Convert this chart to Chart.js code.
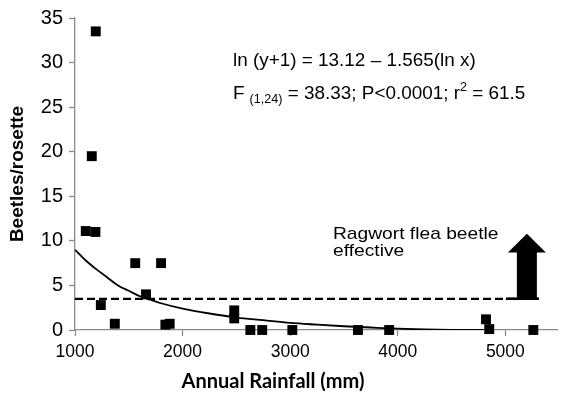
<!DOCTYPE html>
<html>
<head>
<meta charset="utf-8">
<script src="https://cdn.jsdelivr.net/npm/chart.js@4/dist/chart.umd.min.js"></script>
<style>
html,body{margin:0;padding:0;background:#fff;overflow:hidden;}
#wrap{width:564px;height:396px;position:relative;}
</style>
</head>
<body>
<div id="wrap"><canvas id="c" width="564" height="396"></canvas></div>
<script>
// ---- data ----
const rainfall = [1100,1190,1193,1156,1560,1800,1660,1240,1370,1840,1880,2480,2480,2630,2740,3020,3630,3920,4820,4850,5260];
const beetles  = [11.1,11.0,33.5,19.5,7.5,7.5,4.0,2.8,0.7,0.6,0.7,2.2,1.3,0,0,0,0,0,1.2,0.1,0];

// fitted curve
const fitX = [1000,1100,1200,1300,1400,1500,1600,1700,1800,2000,2250,2500,2750,3000,3250,3500,3750,4000,4250,4500,4800];
const fitY = [9.0,7.8,6.8,5.9,5.0,4.4,3.8,3.4,3.0,2.4,1.85,1.4,1.1,0.8,0.6,0.42,0.28,0.15,0.06,0.02,0.0];

// effectiveness threshold line and arrow
const thresholdX = [1000,5330];
const threshold = 3.5;
const arrowX = 5200;
const arrowTip = 10.8;
const arrowHeadBase = 8.7;

const xTicks = [1000,2000,3000,4000,5000];
const yTicks = [0,5,10,15,20,25,30,35];

const eqLine1 = 'ln (y+1) = 13.12 \u2013 1.565(ln x)';
const eqLine2 = ['F', '(1,24)', ' = 38.33; P<0.0001; r', '2', ' = 61.5'];
const noteLines = ['Ragwort flea beetle', 'effective'];
const xTitle = 'Annual Rainfall (mm)';
const yTitle = 'Beetles/rosette';

const AXIS = '#8a8a8a';
const FONT = '"Liberation Sans", Arial, sans-serif';

function stretchText(ctx, text, x, y, sx) {
  ctx.save();
  ctx.translate(x, y);
  ctx.scale(sx, 1);
  ctx.fillText(text, 0, 0);
  ctx.restore();
  return ctx.measureText(text).width * sx;
}

const annotate = {
  id: 'annotate',
  afterDatasetsDraw(chart) {
    const ctx = chart.ctx;
    const xs = chart.scales.x, ys = chart.scales.y;
    ctx.save();
    // arrow
    const cx = xs.getPixelForValue(arrowX);
    const yb = ys.getPixelForValue(threshold);
    const yt = ys.getPixelForValue(arrowTip);
    const yh = ys.getPixelForValue(arrowHeadBase);
    ctx.fillStyle = '#000';
    ctx.beginPath();
    ctx.moveTo(cx - 10, yb);
    ctx.lineTo(cx - 10, yh);
    ctx.lineTo(cx - 19, yh);
    ctx.lineTo(cx, yt);
    ctx.lineTo(cx + 19, yh);
    ctx.lineTo(cx + 10, yh);
    ctx.lineTo(cx + 10, yb);
    ctx.closePath();
    ctx.fill();
    ctx.strokeStyle = '#000';
    ctx.lineWidth = 2.5;
    ctx.beginPath();
    ctx.moveTo(cx - 21, yb);
    ctx.lineTo(cx + 12, yb);
    ctx.stroke();

    // texts
    ctx.fillStyle = '#000';
    ctx.textBaseline = 'alphabetic';
    ctx.textAlign = 'left';
    const SX = 1.05;
    ctx.font = '18px ' + FONT;
    const ex = 233;
    stretchText(ctx, eqLine1, ex, 66, SX);
    let x = ex;
    ctx.font = '18px ' + FONT;
    x += stretchText(ctx, eqLine2[0], x, 98.5, SX) + 5;
    ctx.font = '12px ' + FONT;
    x += stretchText(ctx, eqLine2[1], x, 103, SX);
    ctx.font = '18px ' + FONT;
    x += stretchText(ctx, eqLine2[2], x, 98.5, SX);
    ctx.font = '12px ' + FONT;
    x += stretchText(ctx, eqLine2[3], x, 91, SX);
    ctx.font = '18px ' + FONT;
    stretchText(ctx, eqLine2[4], x, 98.5, SX);

    ctx.font = '17px ' + FONT;
    stretchText(ctx, noteLines[0], 333, 239, 1.13);
    stretchText(ctx, noteLines[1], 333, 256, 1.13);

    // x axis title
    ctx.font = 'bold 20px Lato, "Open Sans", sans-serif';
    ctx.textAlign = 'center';
    ctx.textBaseline = 'middle';
    ctx.fillText(xTitle, 273, 382);
    ctx.restore();
  }
};

new Chart(document.getElementById('c'), {
  type: 'scatter',
  data: {
    datasets: [
      {
        label: 'threshold',
        type: 'line',
        data: thresholdX.map(v => ({x: v, y: threshold})),
        borderColor: '#000',
        borderWidth: 2.3,
        borderDash: [8, 4],
        pointRadius: 0,
        fill: false,
        order: 3
      },
      {
        label: 'fit',
        type: 'line',
        data: fitX.map((v, i) => ({x: v, y: fitY[i]})),
        borderColor: '#000',
        borderWidth: 1.8,
        pointRadius: 0,
        cubicInterpolationMode: 'monotone',
        fill: false,
        order: 2
      },
      {
        label: 'beetles',
        data: rainfall.map((v, i) => ({x: v, y: beetles[i]})),
        pointStyle: 'rect',
        pointRadius: 7,
        pointHoverRadius: 7,
        backgroundColor: '#000',
        borderColor: '#000',
        borderWidth: 0,
        clip: false,
        order: 1
      }
    ]
  },
  options: {
    responsive: false,
    animation: false,
    events: [],
    layout: {padding: {top: 18, right: 0, bottom: 0, left: 0}},
    plugins: {legend: {display: false}, tooltip: {enabled: false}},
    scales: {
      x: {
        type: 'linear',
        min: 1000, max: 5480,
        afterBuildTicks: s => { s.ticks = xTicks.map(v => ({value: v})); },
        afterFit: s => { s.height = 66; },
        border: {color: AXIS, width: 1.3},
        grid: {display: true, drawOnChartArea: false, drawTicks: true, tickLength: 6, color: AXIS, tickWidth: 1.3},
        ticks: {color: '#000', font: {family: FONT, size: 17.5}, padding: 6, maxRotation: 0, callback: v => String(v)},
        title: {display: false}
      },
      y: {
        min: 0, max: 35,
        afterBuildTicks: s => { s.ticks = yTicks.map(v => ({value: v})); },
        afterFit: s => { s.width = 75; },
        border: {color: AXIS, width: 1.3},
        grid: {display: true, drawOnChartArea: false, drawTicks: true, tickLength: 6, color: AXIS, tickWidth: 1.3},
        ticks: {color: '#000', font: {family: FONT, size: 20}, padding: 6, callback: v => String(v)},
        title: {display: true, text: yTitle, color: '#000', font: {family: FONT, size: 19, weight: 'bold'}, padding: {top: 6, bottom: 0}}
      }
    }
  },
  plugins: [annotate]
});
</script>
</body>
</html>
